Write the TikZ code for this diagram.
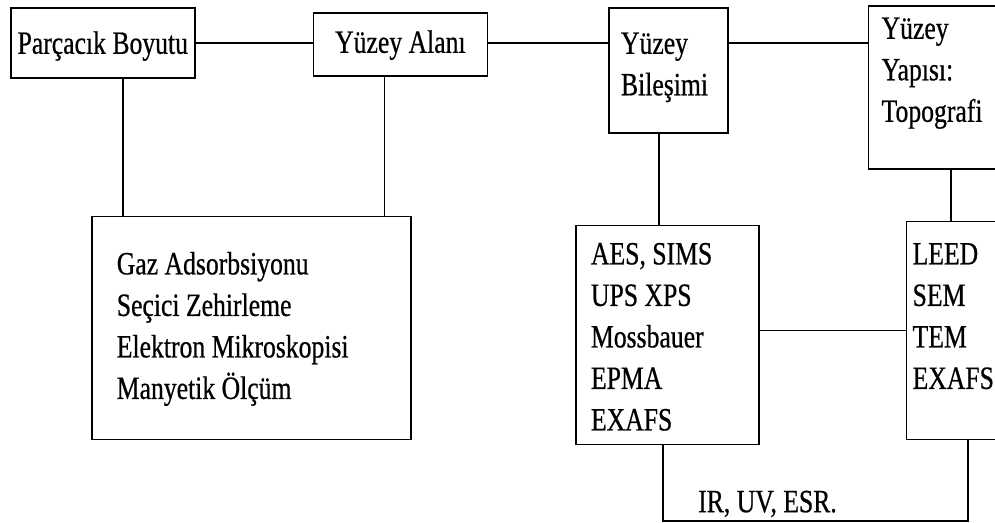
\documentclass[tikz,border=0pt]{standalone}
\usepackage{fontspec}
\setmainfont{Liberation Serif}[FakeStretch=0.79,FakeBold=0.6]
\usetikzlibrary{positioning}
\tikzset{box/.style={rectangle,draw,line width=1.6pt,inner xsep=0pt,inner ysep=0pt,anchor=north west,
	   font=\fontsize{32.5}{41.5}\selectfont},
	 listbox/.style={box,align=flush left},
	 wire/.style={line width=1.6pt}
	 }

\begin{document}
\begin{tikzpicture}[x=1pt,y=-1pt] % yuzey karakterizasyonu
	\useasboundingbox (0,0) rectangle (995,522);
	\clip (0,0) rectangle (995,522);
	% ust sira
	\node[box,minimum width=184pt,text height=46pt,text depth=24pt] (parca) at (10,7) {Parçacık Boyutu};
	\node[box,minimum width=174pt,text height=40pt,text depth=23pt] (alan) [right=117pt of parca.north east,anchor=north west,yshift=-5pt] {Yüzey Alanı};
	\node[listbox,inner xsep=12pt,text width=95pt,text height=46pt,text depth=79pt] (bilesim) [right=120pt of alan.north east,anchor=north west,yshift=5pt] {Yüzey\\Bileşimi};
	\node[listbox,inner xsep=13pt,text width=124pt,text height=33pt,text depth=130pt] (yapi) [right=139pt of bilesim.north east,anchor=north west,yshift=2pt] {Yüzey\\Yapısı:\\Topografi};
	% alt sira
	\node[listbox,inner xsep=25pt,text width=269pt,text height=58pt,text depth=165pt] (gaz) [below=137pt of parca.south west,anchor=north west,xshift=81pt] {Gaz Adsorbsiyonu\\Seçici Zehirleme\\Elektron Mikroskopisi\\Manyetik Ölçüm};
	\node[listbox,inner xsep=15pt,text width=153pt,text height=39pt,text depth=180pt] (aes) [below=91pt of bilesim.south west,anchor=north west,xshift=-33pt] {AES, SIMS\\UPS XPS\\Mossbauer\\EPMA\\EXAFS};
	\node[listbox,inner xsep=6pt,text width=98pt,text height=43pt,text depth=175pt] (leed) [below=51pt of yapi.south west,anchor=north west,xshift=38pt] {LEED\\SEM\\TEM\\EXAFS};
	% baglantilar
	\draw[wire] (parca.east) -- (parca.east -| alan.west);
	\draw[wire] (parca.east -| alan.east) -- (parca.east -| bilesim.west);
	\draw[wire] (parca.east -| bilesim.east) -- (parca.east -| yapi.west);
	\draw[wire] ([xshift=20pt]parca.south) -- ([xshift=20pt]parca.south |- gaz.north);
	\draw[wire] ([xshift=-16pt]alan.south) -- ([xshift=-16pt]alan.south |- gaz.north);
	\draw[wire] ([xshift=-9.5pt]bilesim.south) -- ([xshift=-9.5pt]bilesim.south |- aes.north);
	\draw[wire] ([xshift=83pt]yapi.south west) -- ([xshift=83pt]yapi.south west |- leed.north);
	\draw[wire] (aes.east |- leed.west) -- (leed.west);
	\draw[wire] ([xshift=-4.5pt]aes.south) -- ++(0,76) coordinate (irbend) -| ([xshift=62pt]leed.south west);
	\node[anchor=base west,inner sep=0pt,font=\fontsize{32.5}{41.5}\selectfont] (irlabel) at ([xshift=35pt,yshift=9pt]irbend) {IR, UV, ESR.};
\end{tikzpicture}
\end{document}
